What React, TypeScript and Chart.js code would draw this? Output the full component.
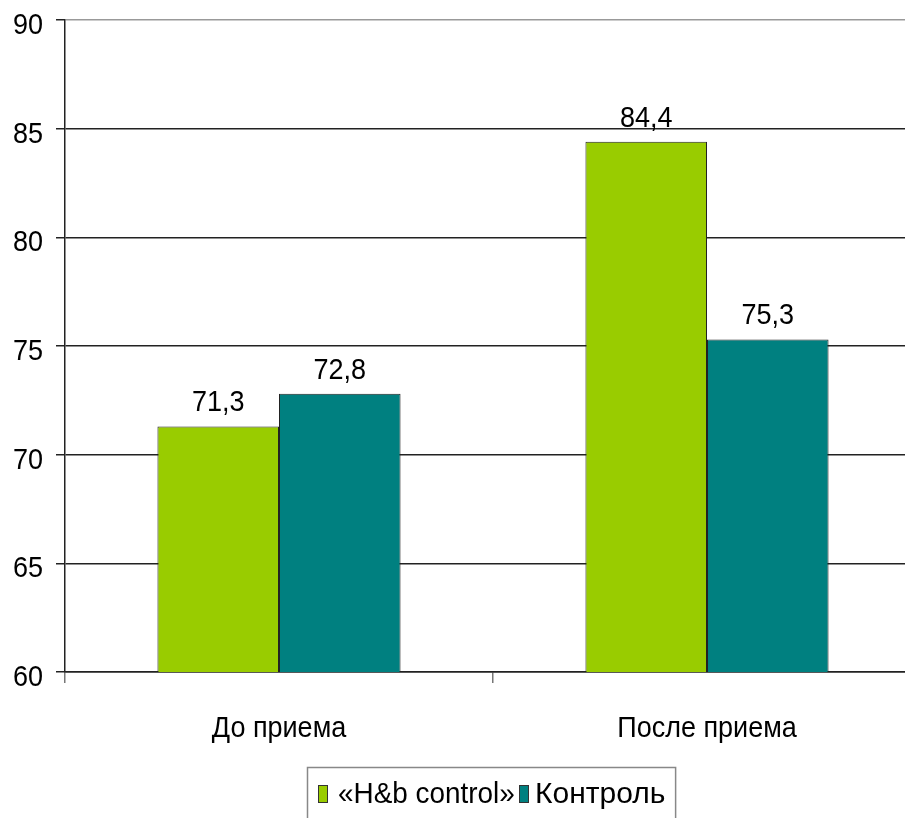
import React, { useEffect, useRef } from "react";
import { Chart, registerables } from "chart.js";

Chart.register(...registerables);

const categories = ["До приема", "После приема"];
const seriesNames = ["«H&b control»", "Контроль"];
const hbControl = [71.3, 84.4];
const kontrol = [72.8, 75.3];
const yTicks = [60, 65, 70, 75, 80, 85, 90];
const colors = ["#99CC00", "#008080"];

const FONT = "'Liberation Sans', Arial, sans-serif";
const FSIZE = 30;
const SX = 0.9; // horizontal squeeze of the text, as in the reference
const W = 940;
const H = 818;

const fmt = (v: number) => v.toFixed(1).replace(".", ",");

function drawText(ctx: any, text: string, x: number, y: number, align: string, sx: number = SX) {
  ctx.save();
  ctx.translate(x, y);
  ctx.scale(sx, 1);
  ctx.textAlign = align;
  ctx.textBaseline = "alphabetic";
  ctx.fillText(text, 0, 0);
  ctx.restore();
}

const textLayer = {
  id: "textLayer",
  afterDraw(chart: any) {
    const ctx = chart.ctx;
    const area = chart.chartArea;
    const xs = chart.scales.x;
    const ys = chart.scales.y;
    ctx.save();
    ctx.font = `${FSIZE}px ${FONT}`;
    ctx.fillStyle = "#000";

    // y tick labels
    yTicks.forEach((v) => {
      drawText(ctx, String(v), area.left - 22, ys.getPixelForValue(v) + 14, "right");
    });

    // x category labels
    categories.forEach((c, i) => {
      drawText(ctx, c, xs.getPixelForValue(i), area.bottom + 65, "center");
    });

    // value labels
    chart.data.datasets.forEach((ds: any, i: number) => {
      const meta = chart.getDatasetMeta(i);
      meta.data.forEach((el: any, j: number) => {
        drawText(ctx, fmt(ds.data[j]), el.x, el.y - 15, "center");
      });
    });

    // legend
    const legendSX = [0.93, 1.0];
    const gaps = [10, 6];
    const padL = 10, sq = 10, itemGap = 4, padR = 11;
    const widths = seriesNames.map((n, i) => ctx.measureText(n).width * legendSX[i]);
    let total = padL + padR;
    widths.forEach((w, i) => {
      total += sq + gaps[i] + w + (i < widths.length - 1 ? itemGap : 0);
    });
    const cx = (area.left + area.right) / 2 - 2;
    const left = Math.round(cx - total / 2) + 0.5;
    ctx.strokeStyle = "#888";
    ctx.lineWidth = 1.5;
    ctx.strokeRect(left, 767.5, total, 80);
    let x = Math.round(left + padL);
    seriesNames.forEach((n, i) => {
      ctx.fillStyle = colors[i];
      ctx.fillRect(x, 785, sq, 18);
      ctx.strokeStyle = "#333";
      ctx.lineWidth = 1;
      ctx.strokeRect(x + 0.5, 785.5, sq - 1, 17);
      x += sq + gaps[i];
      ctx.fillStyle = "#000";
      drawText(ctx, n, x, 803, "left", legendSX[i]);
      x += Math.round(widths[i] + itemGap);
    });
    ctx.restore();
  },
};

export default function App() {
  const ref = useRef<HTMLCanvasElement | null>(null);

  useEffect(() => {
    if (!ref.current) return;
    const chart = new Chart(ref.current, {
      type: "bar",
      data: {
        labels: categories,
        datasets: [
          {
            label: seriesNames[0],
            data: hbControl,
            backgroundColor: colors[0],
            borderColor: "#222",
            borderWidth: 1,
            barPercentage: 1,
            categoryPercentage: 0.568,
          },
          {
            label: seriesNames[1],
            data: kontrol,
            backgroundColor: colors[1],
            borderColor: "#222",
            borderWidth: 1,
            barPercentage: 1,
            categoryPercentage: 0.568,
          },
        ],
      },
      options: {
        responsive: false,
        animation: false,
        devicePixelRatio: 1,
        layout: { padding: { top: 20, right: 19, bottom: 0, left: 0 } },
        plugins: {
          legend: { display: false },
          tooltip: { enabled: false },
        },
        scales: {
          x: {
            grid: {
              offset: true,
              drawOnChartArea: false,
              drawTicks: true,
              tickLength: 11,
              color: "#777",
              lineWidth: 1.5,
            },
            border: { color: "#222", width: 1.5 },
            ticks: { display: false },
            afterFit: (s: any) => {
              s.height = 146;
              s.paddingLeft = 0;
              s.paddingRight = 0;
            },
          },
          y: {
            min: 60,
            max: 90,
            afterBuildTicks: (s: any) => {
              s.ticks = yTicks.map((v) => ({ value: v }));
            },
            ticks: { display: false },
            grid: {
              color: (c: any) => (c.tick && c.tick.value === 90 ? "#999" : "#222"),
              tickColor: "#222",
              tickLength: 9,
              lineWidth: 1.5,
            },
            border: { color: "#222", width: 1.5 },
            afterFit: (s: any) => {
              s.width = 65;
              s.paddingTop = 0;
              s.paddingBottom = 0;
            },
          },
        },
      },
      plugins: [textLayer],
    });
    return () => chart.destroy();
  }, []);

  return (
    <div
      style={{
        position: "fixed",
        left: 0,
        top: 0,
        width: 905,
        height: 818,
        overflow: "hidden",
        background: "#fff",
      }}
    >
      <canvas ref={ref} width={W} height={H} style={{ display: "block", width: W, height: H }} />
    </div>
  );
}
